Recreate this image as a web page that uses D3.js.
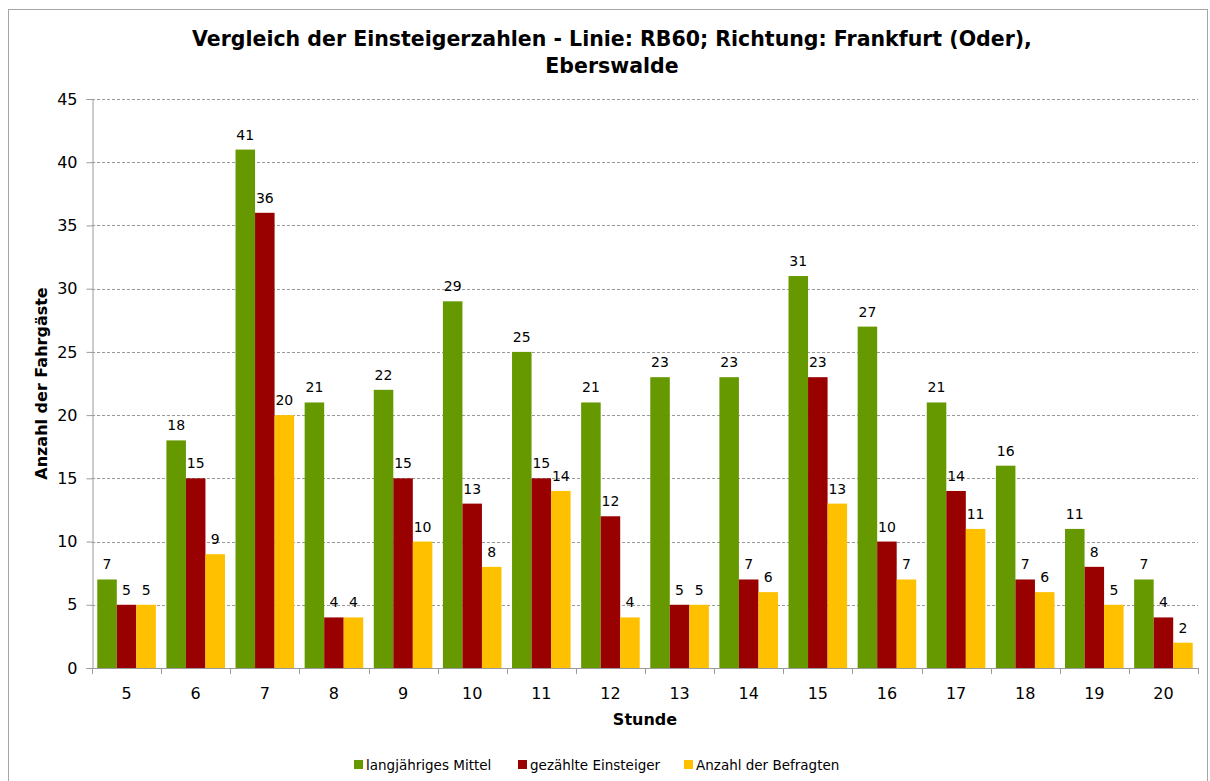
<!DOCTYPE html>
<html>
<head>
<meta charset="utf-8">
<script src="https://cdn.jsdelivr.net/npm/d3@7"></script>
<style>
  body { margin: 0; background: #fff; }
  svg { display: block; font-family: "DejaVu Sans", Verdana, sans-serif; }
</style>
</head>
<body>
<svg id="chart" width="1210" height="781"></svg>
<script>
// Einsteigerzahlen RB60 — grouped bar chart

const hours = ["5", "6", "7", "8", "9", "10", "11", "12", "13", "14", "15", "16", "17", "18", "19", "20"];
const mittel = [7, 18, 41, 21, 22, 29, 25, 21, 23, 23, 31, 27, 21, 16, 11, 7];
const gezaehlt = [5, 15, 36, 4, 15, 13, 15, 12, 5, 7, 23, 10, 14, 7, 8, 4];
const befragt = [5, 9, 20, 4, 10, 8, 14, 4, 5, 6, 13, 7, 11, 6, 5, 2];
const seriesNames = ["langjähriges Mittel", "gezählte Einsteiger", "Anzahl der Befragten"];
const yTicks = [0, 5, 10, 15, 20, 25, 30, 35, 40, 45];

const COLORS = ["#669900", "#990000", "#FFC000"];
const GRID = "#9a9a9a";

const svg = d3.select("#chart");
const plotLeft = 92, plotRight = 1198, plotTop = 99, plotBottom = 668;

// outer chart border
svg.append("rect")
  .attr("x", 8.5).attr("y", 9.5)
  .attr("width", 1199).attr("height", 780)
  .attr("fill", "#fff")
  .attr("stroke", "#a6a6a6");

const x0 = d3.scaleBand().domain(hours).range([plotLeft, plotRight]).paddingInner(0).paddingOuter(0);
const x1 = d3.scaleBand().domain([0, 1, 2]).range([0, x0.bandwidth()]).paddingOuter(0.27).paddingInner(0);
const y = d3.scaleLinear().domain([0, 45]).range([plotBottom, plotTop]);

// gridlines
svg.append("g")
  .selectAll("line")
  .data(yTicks.filter((d) => d > 0))
  .join("line")
  .attr("x1", plotLeft).attr("x2", plotRight)
  .attr("y1", (d) => Math.round(y(d)) + 0.5)
  .attr("y2", (d) => Math.round(y(d)) + 0.5)
  .attr("stroke", GRID)
  .attr("stroke-dasharray", "3,2");

// bars
const series = [mittel, gezaehlt, befragt];
const rows = [];
hours.forEach((h, i) => {
  series.forEach((s, k) => rows.push({ hour: h, k, value: s[i] }));
});

svg.append("g")
  .selectAll("rect")
  .data(rows)
  .join("rect")
  .attr("x", (d) => x0(d.hour) + x1(d.k))
  .attr("y", (d) => y(d.value))
  .attr("width", x1.bandwidth())
  .attr("height", (d) => plotBottom - y(d.value))
  .attr("fill", (d) => COLORS[d.k]);

// data labels
svg.append("g")
  .selectAll("text")
  .data(rows)
  .join("text")
  .attr("x", (d) => x0(d.hour) + x1(d.k) + x1.bandwidth() / 2)
  .attr("y", (d) => y(d.value) - 10)
  .attr("text-anchor", "middle")
  .attr("font-size", "14px")
  .attr("fill", "#000")
  .text((d) => d.value);

// y axis
const yAxis = svg.append("g")
  .attr("transform", "translate(" + (plotLeft + 0.5) + ",0)")
  .call(d3.axisLeft(y).tickValues(yTicks).tickSize(6).tickPadding(9));
yAxis.select(".domain").attr("stroke", GRID);
yAxis.selectAll(".tick line").attr("stroke", GRID);
yAxis.selectAll(".tick text").attr("font-size", "16px").attr("font-family", "DejaVu Sans").attr("fill", "#000");

// x axis: ticks between groups
const xAxisG = svg.append("g");
xAxisG.append("line")
  .attr("x1", plotLeft).attr("x2", plotRight + 0.5)
  .attr("y1", plotBottom + 0.5).attr("y2", plotBottom + 0.5)
  .attr("stroke", GRID);
xAxisG.selectAll("line.tk")
  .data(hours.concat(["end"]))
  .join("line")
  .attr("class", "tk")
  .attr("x1", (d, i) => Math.round(plotLeft + i * x0.bandwidth()) + 0.5)
  .attr("x2", (d, i) => Math.round(plotLeft + i * x0.bandwidth()) + 0.5)
  .attr("y1", plotBottom).attr("y2", plotBottom + 6)
  .attr("stroke", GRID);
xAxisG.selectAll("text")
  .data(hours)
  .join("text")
  .attr("x", (d) => x0(d) + x0.bandwidth() / 2)
  .attr("y", 699)
  .attr("text-anchor", "middle")
  .attr("font-size", "16px")
  .text((d) => d);

// axis titles
svg.append("text")
  .attr("x", (plotLeft + plotRight) / 2).attr("y", 725)
  .attr("text-anchor", "middle")
  .attr("font-size", "16px").attr("font-weight", "bold")
  .text("Stunde");

svg.append("text")
  .attr("transform", "translate(47," + ((plotTop + plotBottom) / 2) + ") rotate(-90)")
  .attr("text-anchor", "middle")
  .attr("font-size", "16px").attr("font-weight", "bold")
  .text("Anzahl der Fahrgäste");

// title
const title = svg.append("text")
  .attr("text-anchor", "middle")
  .attr("font-size", "20.5px").attr("font-weight", "bold");
title.append("tspan").attr("x", 612).attr("y", 46).text("Vergleich der Einsteigerzahlen - Linie: RB60; Richtung: Frankfurt (Oder),");
title.append("tspan").attr("x", 612).attr("y", 73).text("Eberswalde");

// legend
const legendX = [354, 518, 684];
const legend = svg.append("g")
  .selectAll("g")
  .data(seriesNames)
  .join("g")
  .attr("transform", (d, i) => "translate(" + legendX[i] + ",760)");
legend.append("rect")
  .attr("width", 9).attr("height", 9)
  .attr("y", 0)
  .attr("fill", (d, i) => COLORS[i]);
legend.append("text")
  .attr("x", 12).attr("y", 10)
  .attr("font-size", "13.5px")
  .text((d) => d);
</script>
</body>
</html>
